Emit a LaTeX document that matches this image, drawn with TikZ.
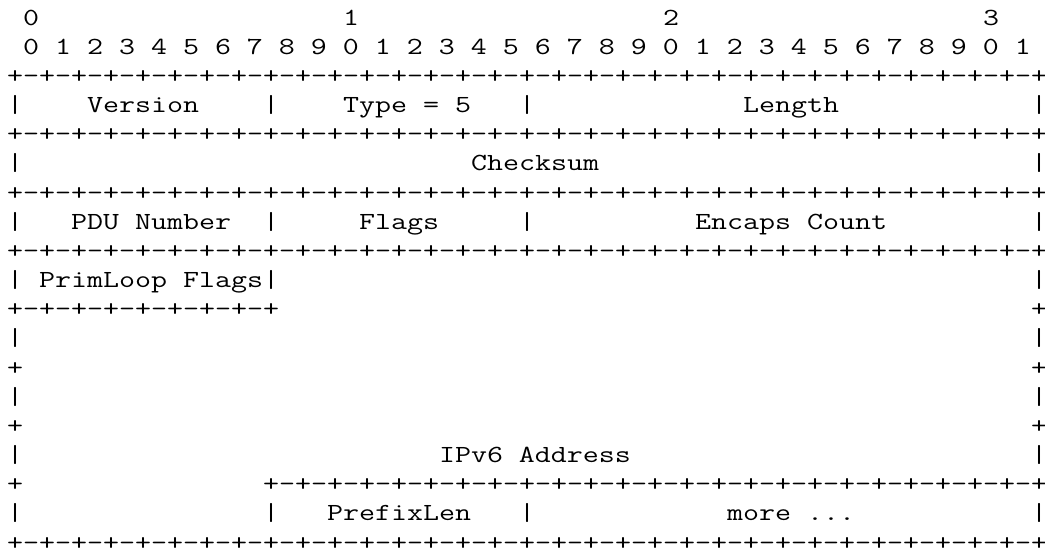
\documentclass[tikz,border=0pt]{standalone}
\usepackage{fontspec}

% one monospaced cell is 8pt wide, one text line is 14.583pt high;
% the typewriter face is widened so that each glyph fills the 8pt cell
\newcommand\cellfont{\ttfamily\fontsize{12.3pt}{14.583pt}\selectfont}
\newsavebox\cellbox
\newlength\cellwd
\tikzset{
  glyphs/.style={anchor=base west, inner sep=0pt, outer sep=0pt,
    font=\cellfont, text=black}
}
% \putchars{name}{line}{column}{text}
\newcommand\putchars[4]{%
  \node[glyphs] (#1) at ({3.5pt+8pt*(#3)},{-12.5pt-14.5833pt*(#2)})
    {\sbox\cellbox{0}\setlength\cellwd{\wd\cellbox}%
     \pgfmathsetmacro\cellfactor{8pt/\cellwd}%
     \scalebox{\cellfactor}[1]{#4}};}
\newcommand\pluspairs{+-+-+-+-+-+-+-+-}
\newcommand\fullrule{\pluspairs\pluspairs\pluspairs\pluspairs+}

\begin{document}
\begin{tikzpicture}
\fill[white] (0,0) rectangle (522.5pt,-277pt);
\useasboundingbox (0,0) rectangle (522.5pt,-277pt);

% bit numbering
\putchars{tens0}{0}{1}{0}
\putchars{tens1}{0}{21}{1}
\putchars{tens2}{0}{41}{2}
\putchars{tens3}{0}{61}{3}
\putchars{units}{1}{1}{0 1 2 3 4 5 6 7 8 9 0 1 2 3 4 5 6 7 8 9 0 1 2 3 4 5 6 7 8 9 0 1}

% word 1
\putchars{rule2}{2}{0}{\fullrule}
\putchars{w1a}{3}{0}{|}
\putchars{version}{3}{5}{Version}
\putchars{w1b}{3}{16}{|}
\putchars{type}{3}{21}{Type = 5}
\putchars{w1c}{3}{32}{|}
\putchars{length}{3}{46}{Length}
\putchars{w1d}{3}{64}{|}

% word 2
\putchars{rule4}{4}{0}{\fullrule}
\putchars{w2a}{5}{0}{|}
\putchars{checksum}{5}{29}{Checksum}
\putchars{w2b}{5}{64}{|}

% word 3
\putchars{rule6}{6}{0}{\fullrule}
\putchars{w3a}{7}{0}{|}
\putchars{pdu}{7}{4}{PDU Number}
\putchars{w3b}{7}{16}{|}
\putchars{flags}{7}{22}{Flags}
\putchars{w3c}{7}{32}{|}
\putchars{encaps}{7}{43}{Encaps Count}
\putchars{w3d}{7}{64}{|}

% word 4 and the IPv6 address
\putchars{rule8}{8}{0}{\fullrule}
\putchars{w4a}{9}{0}{|}
\putchars{primloop}{9}{2}{PrimLoop Flags|}
\putchars{w4b}{9}{64}{|}
\putchars{rule10}{10}{0}{\pluspairs+}
\putchars{e10}{10}{64}{+}
\putchars{l11}{11}{0}{|}
\putchars{r11}{11}{64}{|}
\putchars{l12}{12}{0}{+}
\putchars{r12}{12}{64}{+}
\putchars{l13}{13}{0}{|}
\putchars{r13}{13}{64}{|}
\putchars{l14}{14}{0}{+}
\putchars{r14}{14}{64}{+}
\putchars{l15}{15}{0}{|}
\putchars{ipv6}{15}{27}{IPv6 Address}
\putchars{r15}{15}{64}{|}
\putchars{l16}{16}{0}{+}
\putchars{rule16}{16}{16}{\pluspairs\pluspairs\pluspairs+}

% last word
\putchars{w9a}{17}{0}{|}
\putchars{w9b}{17}{16}{|}
\putchars{prefixlen}{17}{20}{PrefixLen}
\putchars{w9c}{17}{32}{|}
\putchars{more}{17}{45}{more ...}
\putchars{w9d}{17}{64}{|}
\putchars{rule18}{18}{0}{\fullrule}
\end{tikzpicture}
\end{document}
